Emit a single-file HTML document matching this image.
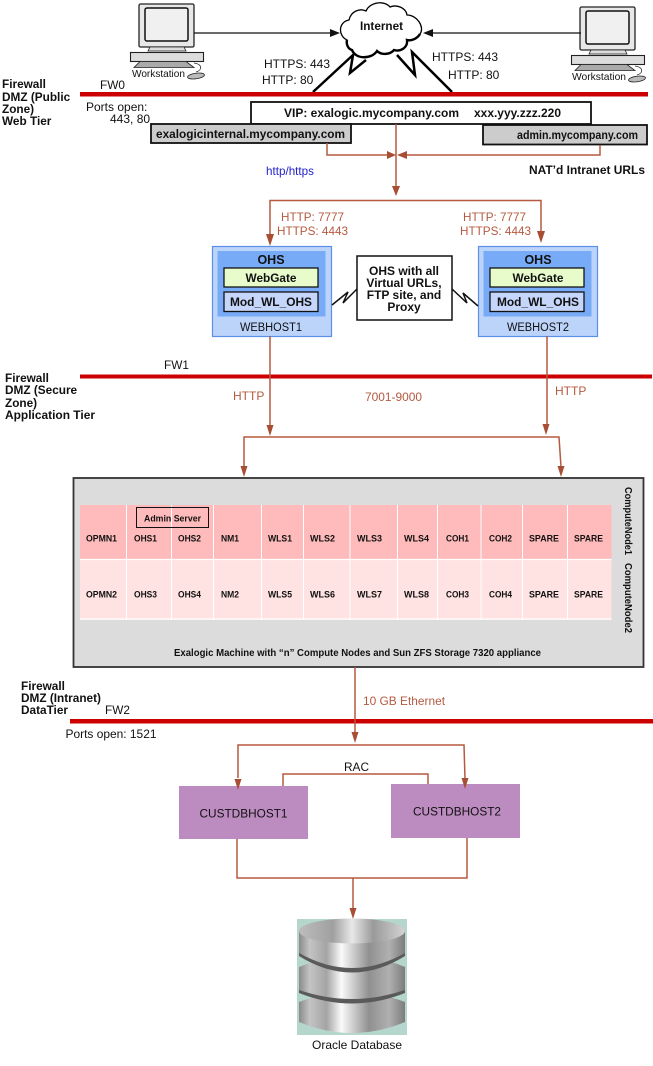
<!DOCTYPE html>
<html><head><meta charset="utf-8"><style>
html,body{margin:0;padding:0;background:#fff}
svg{display:block}
text{font-family:"Liberation Sans",sans-serif;fill:#111}
.b{font-weight:bold}
.c{text-anchor:middle}
.o{fill:#b5593f}
.t{font-size:9.5px;font-weight:bold;text-anchor:middle;fill:#111}
</style></head><body>
<svg width="653" height="1066" viewBox="0 0 653 1066" xmlns="http://www.w3.org/2000/svg">
<defs>
<g id="ws">
<rect x="9" y="4" width="55" height="43" rx="1.500" fill="#e8e8e8" stroke="#222" stroke-width="1.300"/>
<rect x="15" y="8" width="43" height="33" rx="2" fill="#f0f0f0" stroke="#111" stroke-width="1.500"/>
<path d="M20 47h34l2 4h-38z" fill="#ddd" stroke="#222" stroke-width=".8"/>
<rect x="0.500" y="52.500" width="73" height="9" fill="#ddd" stroke="#222" stroke-width="1.100"/>
<path d="M10 61.500h46l8 6h-60z" fill="#aaa" stroke="#222" stroke-width=".8"/>
<path d="M64 63c8 1 9 7 2 9" fill="none" stroke="#222" stroke-width=".8"/>
<ellipse cx="66" cy="76" rx="8.500" ry="2.800" fill="#bbb" stroke="#222" stroke-width=".8" transform="rotate(-8 66 76)"/>
</g>
<linearGradient id="m" x1="0" x2="1" y1="0" y2="0">
<stop offset="0" stop-color="#8a8a8a"/><stop offset=".1" stop-color="#c4c4c4"/><stop offset=".26" stop-color="#a4a4a4"/><stop offset=".4" stop-color="#fafafa"/><stop offset=".66" stop-color="#909090"/><stop offset=".85" stop-color="#b0b0b0"/><stop offset="1" stop-color="#7c7c7c"/>
</linearGradient>
<linearGradient id="top" x1="0" x2="1" y1="0" y2="0">
<stop offset="0" stop-color="#bdbdbd"/><stop offset=".32" stop-color="#a0a0a0"/><stop offset=".5" stop-color="#e8e8e8"/><stop offset=".7" stop-color="#9a9a9a"/><stop offset="1" stop-color="#d4d4d4"/>
</linearGradient>
</defs>

<!-- workstations -->
<use href="#ws" x="130" y="0"/>
<use href="#ws" x="571" y="3"/>
<text x="132" y="77" font-size="10.500" textLength="53" lengthAdjust="spacingAndGlyphs">Workstation</text>
<text x="572" y="80" font-size="10.500" textLength="54" lengthAdjust="spacingAndGlyphs">Workstation</text>
<path d="M194 33H331" stroke="#111" stroke-width="1.200"/><path d="M340 33l-10-4v8z" fill="#111"/>
<path d="M581 33H432" stroke="#111" stroke-width="1.200"/><path d="M423 33l10-4v8z" fill="#111"/>

<!-- zigzags -->
<path d="M313 92L353 55 350 73 366 60" fill="none" stroke="#000" stroke-width="2.500"/>
<path d="M452 92L412 52 415 75 397 55" fill="none" stroke="#000" stroke-width="2.500"/>

<!-- cloud -->
<path d="M347 40C338 36 338 22 349 20C351 11 360 8 366 11C370 2 384 0 390 7C397 4 406 8 407 15C417 15 425 27 420 34C417 39 411 41 407 40C408 48 400 52 394 50C390 55 381 55 377 51C372 59 356 60 352 50C348 49 346 44 347 40z" fill="#fff" stroke="#000" stroke-width="1.300"/>
<path d="M347 40C346 44 348 49 352 50C356 60 372 59 377 51C381 55 390 55 394 50C400 52 408 48 407 40C411 41 417 39 420 34" fill="none" stroke="#000" stroke-width="2.400"/>
<text x="381.500" y="30" class="b c" font-size="12" textLength="43" lengthAdjust="spacingAndGlyphs">Internet</text>

<!-- labels top -->
<text x="264" y="68" font-size="12" textLength="66" lengthAdjust="spacingAndGlyphs">HTTPS: 443</text>
<text x="262" y="84" font-size="12">HTTP: 80</text>
<text x="432" y="61" font-size="12">HTTPS: 443</text>
<text x="448" y="79" font-size="12">HTTP: 80</text>
<text x="2" y="88" class="b" font-size="11.800">Firewall</text>
<text x="2" y="101" class="b" font-size="11.800">DMZ (Public</text>
<text x="2" y="113" class="b" font-size="11.800">Zone)</text>
<text x="2" y="125" class="b" font-size="11.800">Web Tier</text>
<text x="100" y="89" font-size="11.800">FW0</text>
<text x="86" y="111" font-size="12">Ports open:</text>
<text x="110" y="123" font-size="12">443, 80</text>

<rect x="80" y="92" width="568" height="4.500" fill="#cc0000"/>

<!-- VIP -->
<rect x="251" y="102" width="340" height="22" fill="#fff" stroke="#111" stroke-width="1.800"/>
<text x="284" y="117" class="b" font-size="12" textLength="175" lengthAdjust="spacingAndGlyphs">VIP: exalogic.mycompany.com</text>
<text x="474" y="117" class="b" font-size="12" textLength="87" lengthAdjust="spacingAndGlyphs">xxx.yyy.zzz.220</text>
<rect x="151" y="124" width="200" height="19" fill="#ccc" stroke="#111" stroke-width="1.800"/>
<text x="156" y="138" class="b" font-size="12" textLength="189" lengthAdjust="spacingAndGlyphs">exalogicinternal.mycompany.com</text>
<rect x="483" y="125" width="164" height="19.500" fill="#ccc" stroke="#111" stroke-width="1.800"/>
<text x="517" y="139" class="b" font-size="12" textLength="121" lengthAdjust="spacingAndGlyphs">admin.mycompany.com</text>

<text x="266" y="175" font-size="12" style="fill:#2222cc" textLength="48" lengthAdjust="spacingAndGlyphs">http/https</text>
<text x="529" y="174" class="b" font-size="12" textLength="116" lengthAdjust="spacingAndGlyphs">NAT’d Intranet URLs</text>
<text x="281" y="221" class="o" font-size="12" textLength="63" lengthAdjust="spacingAndGlyphs">HTTP: 7777</text>
<text x="277" y="235" class="o" font-size="12" textLength="71" lengthAdjust="spacingAndGlyphs">HTTPS: 4443</text>
<text x="463" y="221" class="o" font-size="12" textLength="63" lengthAdjust="spacingAndGlyphs">HTTP: 7777</text>
<text x="460" y="235" class="o" font-size="12" textLength="71" lengthAdjust="spacingAndGlyphs">HTTPS: 4443</text>

<!-- webhost 1 -->
<rect x="212.500" y="246.500" width="119" height="90" fill="#bcd4fa" stroke="#5b8fe8" stroke-width="1.200"/>
<rect x="217.500" y="251" width="108" height="65.500" fill="#78abf7"/>
<text x="271" y="264" class="b c" font-size="12.500">OHS</text>
<rect x="224" y="268" width="94" height="19" fill="#e8fccb" stroke="#111" stroke-width="1.300"/>
<text x="271" y="282" class="b c" font-size="12" textLength="51" lengthAdjust="spacingAndGlyphs">WebGate</text>
<rect x="224" y="292" width="94" height="19.500" fill="#c5d6fa" stroke="#111" stroke-width="1.300"/>
<text x="271" y="306" class="b c" font-size="12" textLength="82" lengthAdjust="spacingAndGlyphs">Mod_WL_OHS</text>
<text x="271" y="331" class="c" font-size="11.500" textLength="62" lengthAdjust="spacingAndGlyphs">WEBHOST1</text>
<!-- webhost 2 -->
<rect x="478.500" y="246.500" width="119" height="90" fill="#bcd4fa" stroke="#5b8fe8" stroke-width="1.200"/>
<rect x="483.500" y="251" width="108" height="65.500" fill="#78abf7"/>
<text x="538" y="264" class="b c" font-size="12.500">OHS</text>
<rect x="490" y="268" width="94" height="19" fill="#e8fccb" stroke="#111" stroke-width="1.300"/>
<text x="538" y="282" class="b c" font-size="12" textLength="51" lengthAdjust="spacingAndGlyphs">WebGate</text>
<rect x="490" y="292" width="94" height="19.500" fill="#c5d6fa" stroke="#111" stroke-width="1.300"/>
<text x="538" y="306" class="b c" font-size="12" textLength="82" lengthAdjust="spacingAndGlyphs">Mod_WL_OHS</text>
<text x="538" y="331" class="c" font-size="11.500" textLength="62" lengthAdjust="spacingAndGlyphs">WEBHOST2</text>

<!-- note -->
<rect x="357" y="256" width="95" height="64" fill="#fff" stroke="#111" stroke-width="1.500"/>
<text x="404" y="275" class="b c" font-size="12">OHS with all</text>
<text x="404" y="287" class="b c" font-size="12">Virtual URLs,</text>
<text x="404" y="299" class="b c" font-size="12">FTP site, and</text>
<text x="404" y="311" class="b c" font-size="12">Proxy</text>
<path d="M332 305L348 292 343 303 357 289" fill="none" stroke="#111" stroke-width="1.500"/>
<path d="M452 289L467 303 463 293 478 306" fill="none" stroke="#111" stroke-width="1.500"/>

<!-- FW1 -->
<rect x="80" y="374.500" width="572" height="4" fill="#cc0000"/>
<text x="164" y="369" font-size="11.800">FW1</text>
<text x="5" y="382" class="b" font-size="11.800">Firewall</text>
<text x="5" y="394" class="b" font-size="11.800">DMZ (Secure</text>
<text x="5" y="407" class="b" font-size="11.800">Zone)</text>
<text x="5" y="419" class="b" font-size="11.800" textLength="90" lengthAdjust="spacingAndGlyphs">Application Tier</text>
<text x="233" y="400" font-size="12" class="o">HTTP</text>
<text x="365" y="401" font-size="12" class="o" textLength="57" lengthAdjust="spacingAndGlyphs">7001-9000</text>
<text x="555" y="395" font-size="12" class="o">HTTP</text>

<!-- Exalogic -->
<rect x="73.500" y="478" width="570" height="189" fill="#dcdcdc" stroke="#333" stroke-width="1.800"/>
<rect x="80" y="505" width="531.500" height="54" fill="#ffbbbb"/>
<rect x="80" y="559" width="531.500" height="61" fill="#ffe2e2"/>
<path d="M80 559.500H611.500M80 619H611.500" stroke="#fff" stroke-width="1.200"/>
<path d="M126.500 505V620M171.500 505V620M213.500 505V620M261.500 505V620M303.500 505V620M350 505V620M397.500 505V620M437.500 505V620M481 505V620M522.500 505V620M567.500 505V620" stroke="#fff" stroke-width="1"/>
<rect x="136.500" y="507.500" width="72" height="20" fill="none" stroke="#111" stroke-width="1"/>
<text x="172.500" y="521.500" class="t" textLength="57" lengthAdjust="spacingAndGlyphs">Admin Server</text>
<text x="101.500" y="541.500" class="t" textLength="31" lengthAdjust="spacingAndGlyphs">OPMN1</text><text x="145.500" y="541.500" class="t" textLength="23" lengthAdjust="spacingAndGlyphs">OHS1</text><text x="189.500" y="541.500" class="t" textLength="23" lengthAdjust="spacingAndGlyphs">OHS2</text><text x="230" y="541.500" class="t" textLength="18" lengthAdjust="spacingAndGlyphs">NM1</text><text x="280" y="541.500" class="t" textLength="24" lengthAdjust="spacingAndGlyphs">WLS1</text><text x="322.500" y="541.500" class="t" textLength="25" lengthAdjust="spacingAndGlyphs">WLS2</text><text x="369.500" y="541.500" class="t" textLength="25" lengthAdjust="spacingAndGlyphs">WLS3</text><text x="416.500" y="541.500" class="t" textLength="25" lengthAdjust="spacingAndGlyphs">WLS4</text><text x="457.500" y="541.500" class="t" textLength="23" lengthAdjust="spacingAndGlyphs">COH1</text><text x="500.500" y="541.500" class="t" textLength="23" lengthAdjust="spacingAndGlyphs">COH2</text><text x="544" y="541.500" class="t" textLength="30" lengthAdjust="spacingAndGlyphs">SPARE</text><text x="588.500" y="541.500" class="t" textLength="29" lengthAdjust="spacingAndGlyphs">SPARE</text>
<text x="101.500" y="597.500" class="t" textLength="31" lengthAdjust="spacingAndGlyphs">OPMN2</text><text x="145.500" y="597.500" class="t" textLength="23" lengthAdjust="spacingAndGlyphs">OHS3</text><text x="189.500" y="597.500" class="t" textLength="23" lengthAdjust="spacingAndGlyphs">OHS4</text><text x="230" y="597.500" class="t" textLength="18" lengthAdjust="spacingAndGlyphs">NM2</text><text x="280" y="597.500" class="t" textLength="24" lengthAdjust="spacingAndGlyphs">WLS5</text><text x="322.500" y="597.500" class="t" textLength="25" lengthAdjust="spacingAndGlyphs">WLS6</text><text x="369.500" y="597.500" class="t" textLength="25" lengthAdjust="spacingAndGlyphs">WLS7</text><text x="416.500" y="597.500" class="t" textLength="25" lengthAdjust="spacingAndGlyphs">WLS8</text><text x="457.500" y="597.500" class="t" textLength="23" lengthAdjust="spacingAndGlyphs">COH3</text><text x="500.500" y="597.500" class="t" textLength="23" lengthAdjust="spacingAndGlyphs">COH4</text><text x="544" y="597.500" class="t" textLength="30" lengthAdjust="spacingAndGlyphs">SPARE</text><text x="588.500" y="597.500" class="t" textLength="29" lengthAdjust="spacingAndGlyphs">SPARE</text>
<text x="174" y="656" class="b" font-size="10.500" textLength="367" lengthAdjust="spacingAndGlyphs">Exalogic Machine with “n” Compute Nodes and Sun ZFS Storage 7320 appliance</text>
<text transform="translate(625 487) rotate(90)" class="b" font-size="10.500" textLength="68" lengthAdjust="spacingAndGlyphs">ComputeNode1</text>
<text transform="translate(625 563) rotate(90)" class="b" font-size="10.500" textLength="70" lengthAdjust="spacingAndGlyphs">ComputeNode2</text>

<!-- FW2 -->
<rect x="70" y="719" width="583" height="4.500" fill="#cc0000"/>
<text x="21" y="690" class="b" font-size="11.800">Firewall</text>
<text x="21" y="702" class="b" font-size="11.800">DMZ (Intranet)</text>
<text x="21" y="714" class="b" font-size="11.800">DataTier</text>
<text x="105" y="714" font-size="11.800">FW2</text>
<text x="65.500" y="738" font-size="12" textLength="91" lengthAdjust="spacingAndGlyphs">Ports open: 1521</text>
<text x="363" y="705" font-size="12" class="o" textLength="82" lengthAdjust="spacingAndGlyphs">10 GB Ethernet</text>

<!-- DB hosts -->
<rect x="179" y="786" width="129" height="53" fill="#bc8bbf"/>
<rect x="391" y="784" width="129" height="54" fill="#bc8bbf"/>
<text x="243.500" y="817.500" class="c" font-size="12" textLength="88" lengthAdjust="spacingAndGlyphs">CUSTDBHOST1</text>
<text x="457" y="815.500" class="c" font-size="12" textLength="88" lengthAdjust="spacingAndGlyphs">CUSTDBHOST2</text>
<text x="356.500" y="771" class="c" font-size="12" textLength="25" lengthAdjust="spacingAndGlyphs">RAC</text>

<!-- database -->
<rect x="297" y="919" width="110" height="116" fill="#b4d6cd"/>
<path d="M299 1002V1022Q352 1044 405 1022V1002Q352 982 299 1002z" fill="url(#m)"/>
<path d="M299 993Q352 1014 405 993V990H299z" fill="#5a5a5a"/>
<path d="M299 967V990Q352 1008 405 990V967Q352 945 299 967z" fill="url(#m)"/>
<path d="M299 956Q352 989 405 956V950H299z" fill="#5a5a5a"/>
<path d="M299 930V953Q352 983 405 953V930z" fill="url(#m)"/>
<ellipse cx="352" cy="931" rx="53" ry="12.500" fill="url(#top)"/>
<text x="312" y="1049" font-size="12" textLength="90" lengthAdjust="spacingAndGlyphs">Oracle Database</text>

<!-- connectors (on top of the boxes) -->
<g fill="none" stroke="#b5593f" stroke-width="1.500">
<path d="M327 143V155H388"/><path d="M600 145V155H407"/><path d="M396 124V188"/>
<path d="M270 239V200.500H541V235"/>
<path d="M270 336V426"/><path d="M547 336V426"/>
<path d="M244 467V437H559L561 467"/>
<path d="M355 667V733"/>
<path d="M238 778V745H464L465 779"/>
<path d="M283 786V774H428V784"/>
<path d="M237 839V878H467V838"/><path d="M353 878V909"/>
</g>
<g fill="#a84e35">
<path d="M396 155l-9-4v8z"/><path d="M397 155l10-4v8z"/>
<path d="M396 196l-4-10h8z"/>
<path d="M270 246l-4-12h8z"/><path d="M541 243l-4-12h8z"/>
<path d="M270 436l-3.500-11h7z"/><path d="M546 435l-3.500-11h7z"/>
<path d="M244 477l-3.500-11h7z"/><path d="M561 477l-3.500-11h7z"/>
<path d="M355 743l-3.500-11h7z"/>
<path d="M238 790l-3.500-11h7z"/><path d="M465 789l-3.500-11h7z"/>
<path d="M353 919l-3.500-11h7z"/>
</g>
</svg>
</body></html>
